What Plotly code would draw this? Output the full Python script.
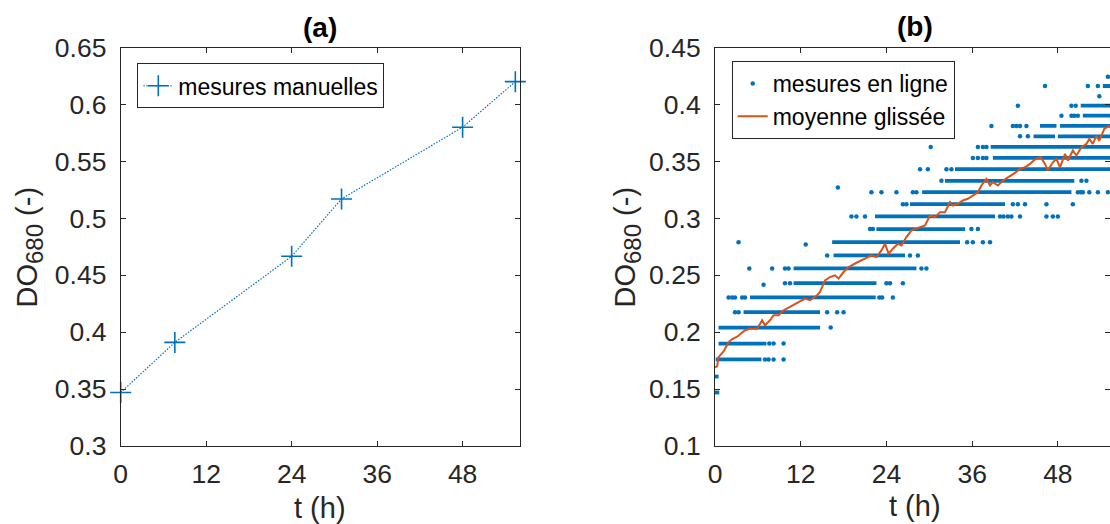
import plotly.graph_objects as go

# ---------------- data ----------------
# (a) manual measurements
manual_t = [0.0, 7.6, 24.0, 31.0, 48.0, 55.4]
manual_od = [0.347, 0.391, 0.4666, 0.517, 0.580, 0.620]

# (b) online measurements: quantised levels, dense runs (level, start, end)
run_level = [0.147, 0.161, 0.176, 0.190, 0.204, 0.2175, 0.2305, 0.243, 0.256,
             0.2674, 0.279, 0.2905, 0.3016, 0.3124, 0.3229, 0.3329, 0.3431,
             0.353, 0.3627, 0.372, 0.372, 0.3811, 0.3811, 0.3901, 0.3989, 0.4162]
run_start = [0.0, 0.0, 0.1, 0.5, 0.5, 4.0, 4.9, 11.0, 11.0,
             16.6, 16.4, 22.6, 22.4, 27.3, 29.0, 32.2, 33.6,
             38.9, 38.6, 44.6, 48.0, 45.5, 48.3, 51.5, 51.2, 54.3]
run_end = [0.6, 0.5, 6.5, 7.2, 14.7, 14.7, 22.5, 22.6, 28.2,
           26.6, 34.3, 35.0, 39.2, 40.6, 49.9, 50.3, 55.3,
           55.3, 55.3, 47.6, 55.3, 47.8, 55.3, 55.3, 55.3, 55.3]

# (b) online measurements: isolated readings (time, level)
dot_t = [7.0, 7.5, 8.2, 9.6,
         7.6, 8.2, 9.6,
         16.2,
         2.8, 3.3, 15.7, 17.1, 18.0,
         1.9, 2.4, 2.8, 3.8, 4.2, 23.0, 23.4, 24.9,
         9.8, 10.5, 24.0, 24.5, 26.3, 6.8,
         4.8, 8.0, 9.8, 10.3, 28.9, 29.6,
         15.7, 27.3, 28.4,
         3.3, 35.3, 36.1, 37.5, 38.5, 12.7,
         21.7, 22.1, 35.9, 36.8,
         19.1, 19.8, 21.0, 39.9, 40.4, 41.0, 41.5, 42.7, 46.4, 47.3, 48.0,
         26.3, 26.8, 41.7, 42.4, 43.4, 46.4, 50.1,
         21.9, 23.3, 25.4, 27.7, 28.2, 50.8, 51.2, 51.5, 52.4, 53.6, 55.0,
         17.2,
         31.7, 51.3, 52.0,
         28.7, 29.8, 32.4, 33.1,
         36.1, 36.8, 37.5, 38.0,
         30.2, 36.8, 37.5, 38.0,
         42.7, 43.8,
         38.7, 41.7, 42.2, 42.7, 43.6,
         48.5, 49.9, 50.3, 50.8,
         42.4, 49.9, 50.5,
         53.8,
         46.2, 52.2, 53.6,
         55.0]
dot_od = [0.176] * 4 + [0.190] * 3 + [0.204] + [0.2175] * 5 + [0.2305] * 8 + \
         [0.243] * 5 + [0.2417] + [0.256] * 6 + [0.2674] * 3 + [0.279] * 5 + [0.277] + \
         [0.2905] * 4 + [0.3016] * 11 + [0.3124] * 7 + [0.3229] * 11 + [0.327] + \
         [0.3329] * 3 + [0.3431] * 4 + [0.353] * 4 + [0.3627] * 4 + [0.372] * 2 + \
         [0.3811] * 5 + [0.3901] * 4 + [0.3989] * 3 + [0.4071] + [0.4162] * 3 + [0.4243]

# (b) moving average
ma_t = [0.0, 0.3, 0.5, 1.2, 1.9, 2.4, 3.1, 3.8, 4.2, 4.9, 5.9, 6.6, 7.0, 7.7, 8.2,
        8.9, 9.6, 10.5, 11.7, 12.6, 13.3, 14.3, 14.7, 15.4, 16.1, 16.8, 17.3, 18.0,
        18.7, 19.1, 20.0, 21.0, 21.9, 22.6, 23.3, 23.8, 24.3, 24.9, 25.6, 26.1, 26.8,
        27.5, 28.7, 29.4, 30.1, 30.8, 31.5, 32.2, 32.9, 33.3, 34.0, 34.7, 35.4, 36.1,
        36.8, 37.3, 38.0, 38.5, 38.9, 39.6, 40.3, 41.0, 41.8, 42.7, 43.4, 44.1, 44.9,
        45.6, 46.2, 46.6, 47.3, 47.8, 48.3, 49.0, 49.4, 50.1, 50.6, 51.3, 52.0, 52.4,
        52.9, 53.4, 53.8, 54.5, 55.2]
ma_od = [0.169, 0.170, 0.178, 0.183, 0.191, 0.194, 0.196, 0.200, 0.2017, 0.203, 0.203,
         0.2104, 0.206, 0.2104, 0.2148, 0.2148, 0.2192, 0.2221, 0.2265, 0.2295, 0.228,
         0.2324, 0.2353, 0.2455, 0.2484, 0.2499, 0.247, 0.2528, 0.2572, 0.2587, 0.2616,
         0.2645, 0.2674, 0.2659, 0.2718, 0.2777, 0.2689, 0.2733, 0.2777, 0.2762, 0.2835,
         0.2894, 0.2922, 0.2937, 0.3025, 0.301, 0.3054, 0.3054, 0.3142, 0.3112, 0.3127,
         0.3156, 0.3171, 0.320, 0.3229, 0.3288, 0.3347, 0.3288, 0.3317, 0.3288, 0.333,
         0.336, 0.339, 0.3434, 0.3448, 0.3478, 0.3522, 0.3536, 0.3478, 0.3419, 0.3492,
         0.3522, 0.3448, 0.3566, 0.3507, 0.3595, 0.3551, 0.3624, 0.3653, 0.3697, 0.3653,
         0.3726, 0.3682, 0.3785, 0.3814]

x_ticks = [0, 12, 24, 36, 48]

# ---------------- styling ----------------
W, H = 1110, 524
BLUE = "#0072BD"
ORANGE = "#D95319"
AX = "#262626"
FONT = "Liberation Sans, Arial, Helvetica, sans-serif"
TICK_SIZE = 26.5
LABEL_SIZE = 29
LEGEND_SIZE = 23


def px(x):
    return x / W


def py(y):
    return 1 - y / H


fig = go.Figure()

# (a)
fig.add_trace(go.Scatter(
    x=manual_t, y=manual_od, mode="lines+markers", name="mesures manuelles",
    line=dict(color=BLUE, width=1.2, dash="1.5px,1.5px"),
    marker=dict(symbol="cross-thin", size=15, line=dict(color=BLUE, width=1.6)),
    xaxis="x", yaxis="y", legend="legend", cliponaxis=False,
))

# (b) dense runs as horizontal segments
seg_x, seg_y = [], []
for lv, a, b in zip(run_level, run_start, run_end):
    seg_x += [a, b, None]
    seg_y += [lv, lv, None]
fig.add_trace(go.Scatter(
    x=seg_x, y=seg_y, mode="lines", showlegend=False,
    line=dict(color=BLUE, width=3.8), xaxis="x2", yaxis="y2", hoverinfo="skip",
))
fig.add_trace(go.Scatter(
    x=dot_t, y=dot_od, mode="markers", name="mesures en ligne",
    marker=dict(color=BLUE, size=4.5), xaxis="x2", yaxis="y2", legend="legend2",
    cliponaxis=False,
))
fig.add_trace(go.Scatter(
    x=ma_t, y=ma_od, mode="lines", name="moyenne glissée",
    line=dict(color=ORANGE, width=2), xaxis="x2", yaxis="y2", legend="legend2",
))

ydom = [py(446), py(47.5)]
common_axis = dict(
    showline=True, linecolor=AX, linewidth=1, mirror="ticks", ticks="inside",
    ticklen=5, tickcolor=AX, showgrid=False, zeroline=False, automargin=False,
    tickfont=dict(family=FONT, size=TICK_SIZE, color=AX),
)

fig.update_layout(
    width=W, height=H, margin=dict(l=0, r=0, t=0, b=0, autoexpand=False),
    paper_bgcolor="white", plot_bgcolor="white",
    font=dict(family=FONT, color=AX),
    xaxis=dict(domain=[px(120.7), px(519.6)], range=[0, 56], tickvals=x_ticks,
               anchor="y", ticklabelstandoff=4, **common_axis),
    yaxis=dict(domain=ydom, range=[0.3, 0.65], dtick=0.05, tick0=0.3,
               anchor="x", ticklabelstandoff=8, **common_axis),
    xaxis2=dict(domain=[px(715), 1.0], range=[0, 55.3], tickvals=x_ticks,
                anchor="y2", ticklabelstandoff=4, **common_axis),
    yaxis2=dict(domain=ydom, range=[0.1, 0.45], dtick=0.05, tick0=0.1,
                anchor="x2", ticklabelstandoff=8, **common_axis),
    legend=dict(x=px(137.3), y=py(63.3), xanchor="left", yanchor="top",
                bgcolor="white", bordercolor=AX, borderwidth=1,
                font=dict(family=FONT, size=LEGEND_SIZE, color="black")),
    legend2=dict(x=px(731.7), y=py(61), xanchor="left", yanchor="top",
                 bgcolor="white", bordercolor=AX, borderwidth=1,
                 font=dict(family=FONT, size=LEGEND_SIZE, color="black")),
)

ylab = 'DO<sub><span style="font-size:24px">680</span></sub> (-)'
annots = [
    dict(text="<b>(a)</b>", x=px(320), y=py(27), size=28, angle=0, color="black"),
    dict(text="<b>(b)</b>", x=px(915), y=py(26), size=28, angle=0, color="black"),
    dict(text="t (h)", x=px(320), y=py(508), size=LABEL_SIZE, angle=0, color=AX),
    dict(text="t (h)", x=px(915), y=py(506), size=LABEL_SIZE, angle=0, color=AX),
    dict(text=ylab, x=px(29), y=py(247.5), size=LABEL_SIZE, angle=-90, color=AX),
    dict(text=ylab, x=px(627), y=py(247.5), size=LABEL_SIZE, angle=-90, color=AX),
]
for a in annots:
    fig.add_annotation(
        text=a["text"], x=a["x"], y=a["y"], xref="paper", yref="paper",
        xanchor="center", yanchor="middle", showarrow=False, textangle=a["angle"],
        font=dict(family=FONT, size=a["size"], color=a["color"]),
    )

fig.write_html(
    "out.html",
    config={"displayModeBar": False},
    post_script="document.body.style.margin='0px';document.body.style.overflow='hidden';",
)
